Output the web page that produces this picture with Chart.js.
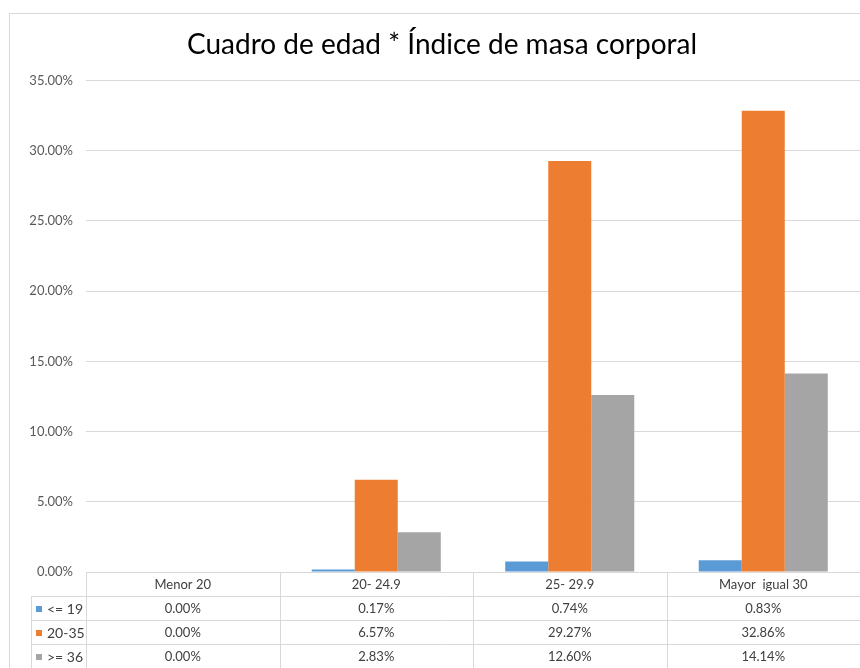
<!DOCTYPE html>
<html>
<head>
<meta charset="utf-8">
<script src="https://cdn.jsdelivr.net/npm/chart.js@4.4.1/dist/chart.umd.min.js"></script>
<style>
  html, body { margin: 0; padding: 0; background: #fff; overflow: hidden; }
  #wrap { width: 860px; height: 668px; overflow: hidden; }
</style>
</head>
<body>
<div id="wrap"><canvas id="myChart" width="884" height="668"></canvas></div>
<script>
const ctx = document.getElementById("myChart");

// data (percent)
const categories = ["Menor 20", "20- 24.9", "25- 29.9", "Mayor  igual 30"];
const seriesNames = ["<= 19", "20-35", ">= 36"];
const menor19 = [0.0, 0.17, 0.74, 0.83];
const de20a35 = [0.0, 6.57, 29.27, 32.86];
const mayor36 = [0.0, 2.83, 12.6, 14.14];
const colors = ["#5B9BD5", "#ED7D31", "#A5A5A5"];

const FONT = "Lato, sans-serif";
const fmt = (v) => v.toFixed(2) + "%";

// chart frame like the excel one (right/bottom edges are cut off)
const framePlugin = {
  id: "frame",
  afterLayout(chart) {
    // the original frame is wider than the picture, so the title sits right of centre
    chart.titleBlock.right += 24;
  },
  beforeDraw(chart) {
    const c = chart.ctx;
    c.save();
    c.fillStyle = "#fff";
    c.fillRect(0, 0, chart.width, chart.height);
    c.strokeStyle = "#d9d9d9";
    c.lineWidth = 1;
    c.strokeRect(9.5, 13.5, chart.width + 20, chart.height + 20);
    c.restore();
  },
};

// data table under the plot
const tablePlugin = {
  id: "dataTable",
  afterDraw(chart) {
    const c = chart.ctx;
    const area = chart.chartArea;
    const x = chart.scales.x;
    const n = categories.length;
    const step = (area.right - area.left) / n;
    const top = area.bottom;
    const headH = 24;
    const rowH = 24;
    const legLeft = 31;
    const bottom = top + headH + rowH * 3;

    c.save();
    c.strokeStyle = "#d9d9d9";
    c.lineWidth = 1;
    c.beginPath();
    c.moveTo(area.left, top + 0.5);
    c.lineTo(area.right, top + 0.5);
    for (let r = 0; r <= 3; r++) {
      const y = Math.round(top + headH + rowH * r) + 0.5;
      c.moveTo(legLeft, y);
      c.lineTo(area.right, y);
    }
    c.moveTo(legLeft + 0.5, top + headH);
    c.lineTo(legLeft + 0.5, bottom);
    for (let i = 0; i <= n; i++) {
      const xx = Math.round(area.left + step * i) + 0.5;
      c.moveTo(xx, top);
      c.lineTo(xx, bottom);
    }
    c.stroke();

    c.font = "13px " + FONT;
    c.fillStyle = "#404040";
    c.textBaseline = "middle";
    c.textAlign = "center";
    categories.forEach((cat, i) => {
      c.fillText(cat, x.getPixelForValue(i), top + headH / 2 + 1);
    });
    chart.data.datasets.forEach((ds, r) => {
      const yMid = top + headH + rowH * r + rowH / 2 + 1;
      c.textAlign = "center";
      c.fillStyle = "#404040";
      ds.data.forEach((v, i) => {
        c.fillText(fmt(v), x.getPixelForValue(i), yMid);
      });
      c.fillStyle = ds.backgroundColor;
      c.fillRect(36, Math.round(yMid - 3), 6, 6);
      c.fillStyle = "#404040";
      c.font = "14px " + FONT;
      c.textAlign = "left";
      c.fillText(ds.label, 47, yMid);
      c.font = "13px " + FONT;
    });
    c.restore();
  },
};

new Chart(ctx, {
  type: "bar",
  data: {
    labels: categories,
    datasets: [
      { label: seriesNames[0], data: menor19, backgroundColor: colors[0] },
      { label: seriesNames[1], data: de20a35, backgroundColor: colors[1] },
      { label: seriesNames[2], data: mayor36, backgroundColor: colors[2] },
    ],
  },
  options: {
    responsive: false,
    animation: false,
    maintainAspectRatio: false,
    layout: { padding: { left: 0, right: 24, top: 0, bottom: 96 } },
    datasets: { bar: { categoryPercentage: 0.667, barPercentage: 1.0 } },
    plugins: {
      legend: { display: false },
      tooltip: { enabled: false },
      title: {
        display: true,
        text: "Cuadro de edad * Índice de masa corporal",
        color: "#000",
        font: { family: FONT, size: 28, weight: "normal" },
        padding: { top: 28, bottom: 19 },
      },
    },
    scales: {
      x: { display: false },
      y: {
        min: 0,
        max: 35,
        afterFit: (scale) => { scale.width = 86; },
        grid: { color: "#d9d9d9", drawTicks: false },
        border: { display: false },
        ticks: {
          stepSize: 5,
          padding: 13,
          color: "#595959",
          font: { family: FONT, size: 13 },
          callback: (v) => fmt(v),
        },
      },
    },
  },
  plugins: [framePlugin, tablePlugin],
});
</script>
</body>
</html>
